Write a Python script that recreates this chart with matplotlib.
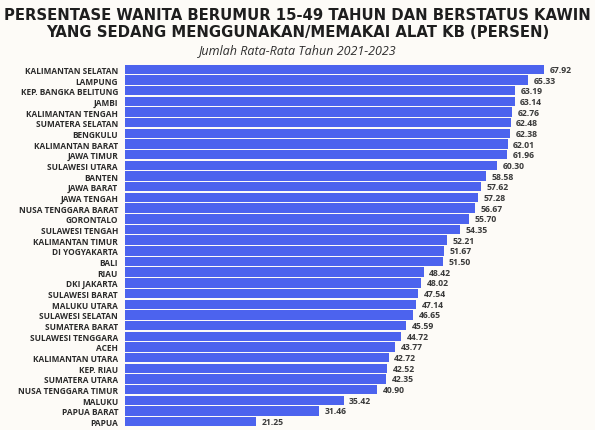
import matplotlib.pyplot as plt

provinces = [
    "KALIMANTAN SELATAN", "LAMPUNG", "KEP. BANGKA BELITUNG", "JAMBI",
    "KALIMANTAN TENGAH", "SUMATERA SELATAN", "BENGKULU", "KALIMANTAN BARAT",
    "JAWA TIMUR", "SULAWESI UTARA", "BANTEN", "JAWA BARAT", "JAWA TENGAH",
    "NUSA TENGGARA BARAT", "GORONTALO", "SULAWESI TENGAH", "KALIMANTAN TIMUR",
    "DI YOGYAKARTA", "BALI", "RIAU", "DKI JAKARTA", "SULAWESI BARAT",
    "MALUKU UTARA", "SULAWESI SELATAN", "SUMATERA BARAT", "SULAWESI TENGGARA",
    "ACEH", "KALIMANTAN UTARA", "KEP. RIAU", "SUMATERA UTARA",
    "NUSA TENGGARA TIMUR", "MALUKU", "PAPUA BARAT", "PAPUA",
]
values = [
    67.92, 65.33, 63.19, 63.14, 62.76, 62.48, 62.38, 62.01, 61.96, 60.30,
    58.58, 57.62, 57.28, 56.67, 55.70, 54.35, 52.21, 51.67, 51.50, 48.42,
    48.02, 47.54, 47.14, 46.65, 45.59, 44.72, 43.77, 42.72, 42.52, 42.35,
    40.90, 35.42, 31.46, 21.25,
]

title = "PERSENTASE WANITA BERUMUR 15-49 TAHUN DAN BERSTATUS KAWIN\nYANG SEDANG MENGGUNAKAN/MEMAKAI ALAT KB (PERSEN)"
subtitle = "Jumlah Rata-Rata Tahun 2021-2023"

bg = "#fdfbf7"
bar_color = "#4c63ee"
text_color = "#2b2b2b"

W, H = 595, 431
fig = plt.figure(figsize=(W / 100, H / 100), dpi=100, facecolor=bg)

# axes placed in pixel terms: bars start at x=125, rows run y=65..428
ax = fig.add_axes([125 / W, 3 / H, (W - 125) / W, 363 / H], facecolor=bg)

ypos = list(range(len(provinces)))
ax.barh(ypos, values, height=0.88, color=bar_color)
ax.set_xlim(0, (W - 125) / 6.17)
ax.set_ylim(len(provinces) - 0.5, -0.5)

for y, v in zip(ypos, values):
    ax.text(v + 0.9, y, f"{v:.2f}", va="center", ha="left",
            fontsize=6.2, fontweight="bold", color="#3a3a3a", family="Open Sans")

ax.set_yticks(ypos)
ax.set_yticklabels(provinces, fontsize=5.95, fontweight="bold", color=text_color, family="Open Sans")
ax.tick_params(axis="y", length=0, pad=5)
ax.set_xticks([])
for s in ax.spines.values():
    s.set_visible(False)

t = fig.text(0.5, 1 - 24 / H, title, ha="center", va="center", fontsize=12.0,
             fontweight="bold", color="#1e1e1e", family="DejaVu Sans", linespacing=1.2)
# scale title so it spans about 585 px like the original
fig.canvas.draw()
w = t.get_window_extent().width
t.set_fontsize(12.0 * 585 / w)

fig.text(0.5, 1 - 50.5 / H, subtitle, ha="center", va="center", fontsize=9,
         style="italic", color="#2e2e2e", family="Open Sans")

fig.savefig("out.png", dpi=100, facecolor=bg)
